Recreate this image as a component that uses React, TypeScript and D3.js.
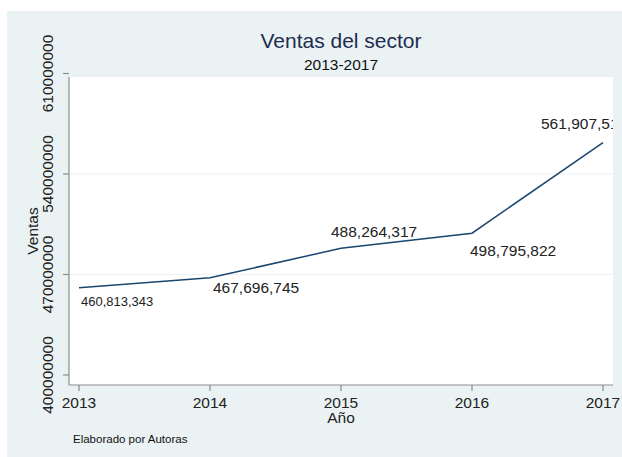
import React from "react";
import * as d3 from "d3";

const years = [2013, 2014, 2015, 2016, 2017];
const ventas = [460813343, 467696745, 488264317, 498795822, 561907514];
const yTicks = [400000000, 470000000, 540000000, 610000000];
const gridTicks = [470000000, 540000000];
// label placement (dx from point to text start, dy from point to text middle), font size
const labelDx = [2, 3, -10, -2, -62];
const labelDy = [14, 10, -17, 17, -19];
const labelSize = [13, 15.5, 15.5, 15.5, 15.5];

const W = 622;
const H = 457;
const plot = { left: 69, right: 613, top: 77, bottom: 385 };
const font = "'Liberation Sans', Arial, sans-serif";

export default function App() {
  const x = d3.scaleLinear().domain([2013, 2017]).range([79, 603]);
  const y = d3.scaleLinear().domain([400000000, 610000000]).range([375, 73.5]);
  const line = d3
    .line<number>()
    .x((_, i) => x(years[i]))
    .y((d) => y(d));
  const cx = (plot.left + plot.right) / 2;
  const cy = (plot.top + plot.bottom) / 2;
  return (
    <svg
      width={W}
      height={H}
      style={{ position: "absolute", left: 0, top: 0, background: "#ffffff" }}
      fontFamily={font}
    >
      <defs>
        <clipPath id="pc">
          <rect x={plot.left} y={plot.top - 60} width={plot.right - plot.left} height={plot.bottom - plot.top + 60} />
        </clipPath>
      </defs>
      <rect x={7} y={11} width={W - 7} height={H - 11} fill="#eaf2f3" />
      <rect x={plot.left} y={plot.top} width={plot.right - plot.left} height={plot.bottom - plot.top} fill="#ffffff" />
      {gridTicks.map((t) => (
        <line key={t} x1={plot.left} x2={plot.right} y1={y(t)} y2={y(t)} stroke="#eaf2f3" strokeWidth={1.2} />
      ))}
      {/* axes */}
      <line x1={plot.left} x2={plot.left} y1={plot.top} y2={plot.bottom} stroke="#8c8c8c" strokeWidth={1.2} />
      <line x1={plot.left} x2={plot.right} y1={plot.bottom} y2={plot.bottom} stroke="#8c8c8c" strokeWidth={1.2} />
      {yTicks.map((t) => (
        <g key={t}>
          <line x1={plot.left - 6} x2={plot.left} y1={y(t)} y2={y(t)} stroke="#8c8c8c" strokeWidth={1.2} />
          <text
            transform={`translate(${53},${y(t)}) rotate(-90)`}
            textAnchor="middle"
            fontSize={15.5}
            fill="#222"
          >
            {String(t)}
          </text>
        </g>
      ))}
      {years.map((yr) => (
        <g key={yr}>
          <line x1={x(yr)} x2={x(yr)} y1={plot.bottom} y2={plot.bottom + 6} stroke="#8c8c8c" strokeWidth={1.2} />
          <text x={x(yr)} y={408} textAnchor="middle" fontSize={15.5} fill="#222">
            {yr}
          </text>
        </g>
      ))}
      <text x={cx} y={423} textAnchor="middle" fontSize={15.5} fill="#222">
        Año
      </text>
      <text transform={`translate(${38},${cy}) rotate(-90)`} textAnchor="middle" fontSize={15.5} fill="#222">
        Ventas
      </text>
      <text x={cx} y={48} textAnchor="middle" fontSize={21} fill="#1e2d50">
        Ventas del sector
      </text>
      <text x={cx} y={70} textAnchor="middle" fontSize={15.5} fill="#111">
        2013-2017
      </text>
      <text x={73} y={443} fontSize={11.5} fill="#111">
        Elaborado por Autoras
      </text>
      <path d={line(ventas) || ""} fill="none" stroke="#1a476f" strokeWidth={1.5} />
      <g clipPath="url(#pc)">
        {ventas.map((v, i) => (
          <text
            key={i}
            x={x(years[i]) + labelDx[i]}
            y={y(v) + labelDy[i]}
            dominantBaseline="central"
            fontSize={labelSize[i]}
            fill="#222"
          >
            {d3.format(",")(v)}
          </text>
        ))}
      </g>
    </svg>
  );
}
